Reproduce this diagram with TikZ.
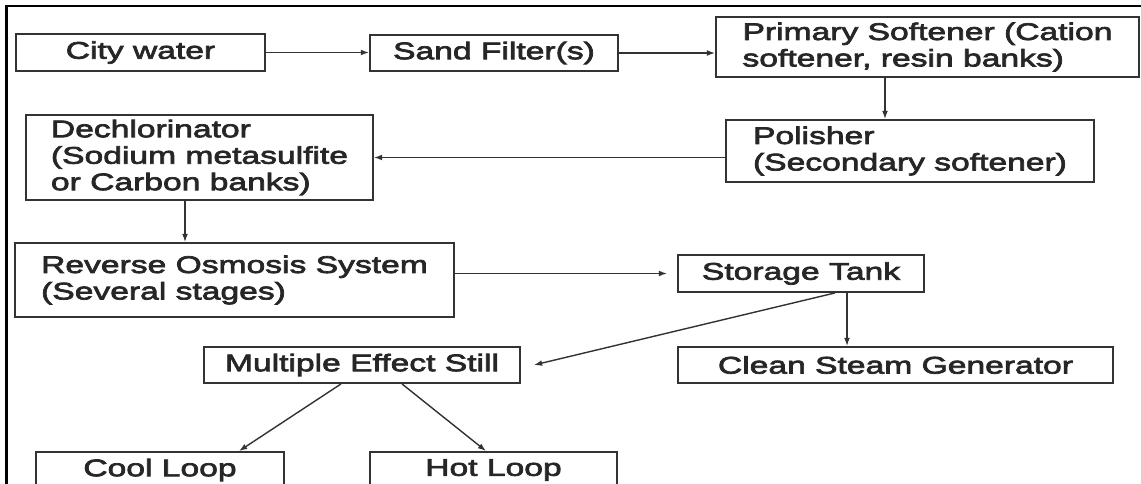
\documentclass[tikz,border=0pt]{standalone}
\usepackage{fontspec}
\setmainfont{Liberation Sans}[FakeStretch=1.4,FakeBold=3]
\usetikzlibrary{arrows.meta}

\tikzset{
  box/.style={draw=black!80, line width=1.6pt, inner sep=0pt, text=black!85,
    font=\fontsize{20.5}{22.6}\selectfont},
  flow/.style={->, line width=1.2pt, draw=black!80},
}

\begin{document}
\begin{tikzpicture}[>={Latex[length=7pt,width=5pt]}]
        % Page frame
        \useasboundingbox (0,0) rectangle (34.23,-14.52);
        \draw[line width=2.5pt] (0.19,-14.7) -- (0.19,-0.18) -- (34.4,-0.18);

        % Pre-treatment
        \node[box, minimum width=7.47cm, minimum height=1.11cm] (city) at (4.215,-1.575) {City water};
        \node[box, minimum width=7.44cm, minimum height=1.08cm] (sand) at (14.82,-1.59) {Sand Filter(s)};
        \node[box, minimum width=12.69cm, minimum height=1.8cm, align=left] (prim) at (27.825,-1.41)
            {Primary Softener (Cation\\softener, resin banks)};
        \node[box, minimum width=11.04cm, minimum height=1.86cm, align=left] (pol) at (27.3,-4.53)
            {Polisher\\(Secondary softener)};
        \node[box, minimum width=10.41cm, minimum height=2.55cm, align=left] (dech) at (5.985,-4.725)
            {Dechlorinator\\(Sodium metasulfite\\or Carbon banks)};

        % Purification
        \node[box, minimum width=13.17cm, minimum height=2.22cm, align=left] (ro) at (7.035,-8.4)
            {Reverse Osmosis System\\(Several stages)};
        \node[box, minimum width=7.38cm, minimum height=1.11cm] (tank) at (24.03,-8.205) {Storage Tank};
        \node[box, minimum width=9.48cm, minimum height=1.08cm] (mes) at (10.86,-10.95) {Multiple Effect Still};
        \node[box, minimum width=13.05cm, minimum height=1.08cm] (csg) at (26.865,-10.95) {Clean Steam Generator};

        % Distribution loops
        \node[box, minimum width=7.44cm, minimum height=1.08cm] (cool) at (4.8,-14.1) {Cool Loop};
        \node[box, minimum width=7.41cm, minimum height=1.08cm] (hot) at (14.805,-14.1) {Hot Loop};

        % Flow
        \draw[flow] (city.east) -- (city.east -| sand.west);
        \draw[flow] (sand.east) -- (sand.east -| prim.west);
        \draw[flow] ([xshift=-1.275cm]prim.south) coordinate (p1) -- (p1 |- pol.north);
        \draw[flow] (pol.west |- dech.east) -- (dech.east);
        \draw[flow] ([xshift=-0.435cm]dech.south) coordinate (d1) -- (d1 |- ro.north);
        \draw[flow] (ro.east |- tank.west) -- ([xshift=-0.3cm]tank.west);
        \draw[flow] ([xshift=1.38cm]tank.south) coordinate (t1) -- (t1 |- csg.north);
        \draw[flow] ([xshift=1.02cm]tank.south) -- ([xshift=0.39cm]mes.east);
        \draw[flow] ([xshift=-0.63cm]mes.south) -- ([xshift=2.37cm]cool.north);
        \draw[flow] ([xshift=1.2cm]mes.south) -- ([xshift=-0.225cm]hot.north);
\end{tikzpicture}
\end{document}
